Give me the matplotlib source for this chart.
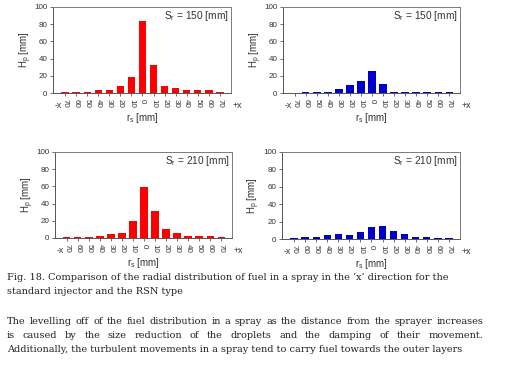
import matplotlib
matplotlib.use("Agg")
import matplotlib.pyplot as plt
import numpy as np

categories = ["70", "60", "50", "40", "30", "20", "10", "0", "10", "20", "30", "40", "50", "60", "70"]
std_150 = [1, 1.5, 1.5, 3, 3, 8, 18.5, 84, 32.5, 8, 5.5, 3, 3, 3, 1.5]
rsn_150 = [0, 1.5, 1.5, 1.5, 4.5, 9, 14, 26, 11, 1.5, 1, 1, 1, 1, 1]
std_210 = [1.5, 1.5, 1.5, 2, 4.3, 6, 20, 59, 31, 10.5, 5.8, 2.7, 2, 2, 1.5]
rsn_210 = [1.5, 2, 2, 4.2, 5.2, 5, 7.7, 13.4, 14.6, 9.2, 6, 2.3, 2.3, 1.5, 1.5]
yticks = [0, 20, 40, 60, 80, 100]

caption = ["Fig. 18. Comparison of the radial distribution of fuel in a spray in the \u2018x\u2019 direction for the",
           "standard injector and the RSN type"]
para = ["The levelling off of the fuel distribution in a spray as the distance from the sprayer increases",
        "is caused by the size reduction of the droplets and the damping of their movement.",
        "Additionally, the turbulent movements in a spray tend to carry fuel towards the outer layers"]

W, H = 509, 365
fig = plt.figure(figsize=(W/100, H/100), dpi=100)
plt.rcParams['font.family'] = ['Liberation Sans', 'DejaVu Sans']

def make_ax(l, t, r, b, vals, color, label):
    ax = fig.add_axes([l/W, 1-b/H, (r-l)/W, (b-t)/H])
    x = np.arange(len(vals))
    ax.bar(x, vals, width=0.65, color=color, zorder=2)
    ax.set_xlim(-1.08, 14.99)
    ax.set_ylim(0, 100)
    ax.set_yticks(yticks)
    ax.set_yticklabels([str(v) for v in yticks], fontsize=5.8, color='#333333')
    ax.set_xticks(x)
    ax.set_xticklabels(categories, rotation=-90, fontsize=5.8, color='#333333')
    ax.tick_params(axis='both', length=2.5, width=0.6, color='#555555', pad=1.5)
    for s in ax.spines.values():
        s.set_color('#7a7a7a')
        s.set_linewidth(0.7)
    ax.spines['left'].set_color('#555555')
    ax.spines['bottom'].set_color('#555555')
    ax.text(0.985, 0.9, label, transform=ax.transAxes, ha='right', va='center', fontsize=7.3, color='#333333')
    ax.set_ylabel(r'H$_\mathregular{p}$ [mm]', fontsize=7, color='#333333', labelpad=0.5)
    ax.set_xlabel(r'r$_\mathregular{s}$ [mm]', fontsize=7, color='#333333', labelpad=2.5)
    ax.text(0.03, -0.14, '-x', transform=ax.transAxes, ha='center', va='center', fontsize=6.3, color='#333333')
    ax.text(1.035, -0.14, '+x', transform=ax.transAxes, ha='center', va='center', fontsize=6.3, color='#333333')
    return ax

make_ax(53, 7, 231, 93, std_150, '#ff0000', r'S$_\mathregular{r}$ = 150 [mm]')
make_ax(283, 7, 460, 93, rsn_150, '#0000cc', r'S$_\mathregular{r}$ = 150 [mm]')
make_ax(55, 152, 232, 238, std_210, '#ff0000', r'S$_\mathregular{r}$ = 210 [mm]')
make_ax(282, 152, 460, 239, rsn_210, '#0000cc', r'S$_\mathregular{r}$ = 210 [mm]')

serif = ['DejaVu Serif']
fs = 7.0
renderer = fig.canvas.get_renderer()

def line(txt, x, y):
    return fig.text(x/W, 1-y/H, txt, fontsize=fs, family=serif, va='center', ha='left', color='#222222')

def justified(txt, x0, x1, y):
    words = txt.split(' ')
    arts = [fig.text(0, 1-y/H, w, fontsize=fs, family=serif, va='center', ha='left', color='#222222') for w in words]
    widths = [a.get_window_extent(renderer).width for a in arts]
    gap = ((x1 - x0) - sum(widths)) / (len(words) - 1)
    xx = x0
    for a, w in zip(arts, widths):
        a.set_x(xx/W)
        xx += w + gap

line(caption[0], 7, 277)
line(caption[1], 7, 292)
justified(para[0], 7, 483, 322)
justified(para[1], 7, 483, 336)
line(para[2], 7, 350)

fig.savefig('out.png', dpi=100)
